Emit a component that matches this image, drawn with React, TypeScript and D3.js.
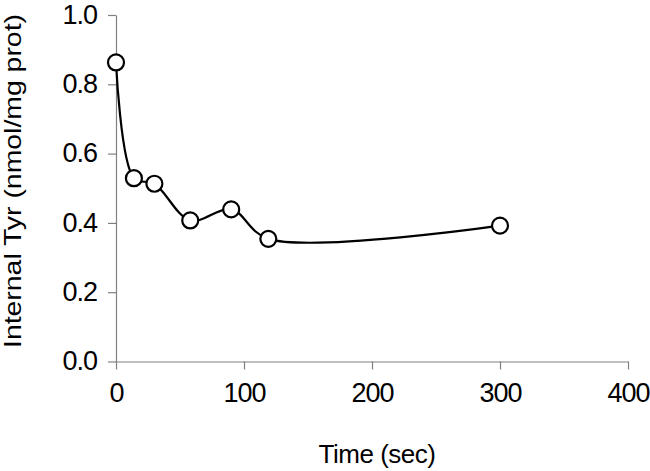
import React, { useEffect, useRef } from 'react';
import * as d3 from 'd3';

// time points (sec) and internal Tyr (nmol/mg prot)
const times = [0, 14, 30, 58, 90, 119, 300];
const tyr = [0.863, 0.529, 0.513, 0.407, 0.439, 0.354, 0.392];
const xTicks = [0, 100, 200, 300, 400];
const yTicks = [0, 0.2, 0.4, 0.6, 0.8, 1.0];

const App = () => {
  const svgRef = useRef<SVGSVGElement>(null);

  useEffect(() => {
    const width = 650;
    const height = 471;
    const left = 116;
    const right = 628;
    const top = 15;
    const bottom = 361.5;

    const svg = d3.select(svgRef.current)
      .attr('width', width)
      .attr('height', height)
      .style('font-family', '"Liberation Sans", Arial, sans-serif');

    svg.selectAll('*').remove();

    const x = d3.scaleLinear().domain([0, 400]).range([left, right]);
    const y = d3.scaleLinear().domain([0, 1]).range([bottom, top]);

    // x axis
    const gx = svg.append('g')
      .attr('transform', `translate(0,${bottom})`)
      .call(d3.axisBottom(x).tickValues(xTicks).tickSize(8).tickSizeOuter(0).tickPadding(13));

    // y axis
    const gy = svg.append('g')
      .attr('transform', `translate(${left},0)`)
      .call(d3.axisLeft(y).tickValues(yTicks).tickSize(8).tickSizeOuter(0).tickPadding(11)
        .tickFormat(d3.format('.1f')));

    [gx, gy].forEach(g => {
      g.select('.domain').attr('stroke', '#808080').attr('stroke-width', 1.2);
      g.selectAll('.tick line').attr('stroke', '#808080').attr('stroke-width', 1.2);
      g.selectAll('.tick text')
        .attr('fill', '#000')
        .style('font-size', '27px')
        .style('font-family', '"Liberation Sans", Arial, sans-serif')
        .style('letter-spacing', '-1px');
    });
    gy.selectAll('.tick text').attr('dy', '0.3em');

    // titles
    svg.append('text')
      .attr('x', (left + right) / 2 + 5)
      .attr('y', 463)
      .attr('text-anchor', 'middle')
      .style('font-size', '26px')
      .style('letter-spacing', '-0.5px')
      .text('Time (sec)');

    svg.append('text')
      .attr('transform', 'translate(21,181) rotate(-90)')
      .attr('text-anchor', 'middle')
      .attr('textLength', 334)
      .attr('lengthAdjust', 'spacingAndGlyphs')
      .style('font-size', '24px')
      .text('Internal Tyr (nmol/mg prot)');

    const pts = times.map((t, i) => [t, tyr[i]] as [number, number]);

    const line = d3.line<[number, number]>()
      .x(d => x(d[0]))
      .y(d => y(d[1]))
      .curve(d3.curveCatmullRom.alpha(0.5));

    svg.append('path')
      .datum(pts)
      .attr('d', line)
      .attr('fill', 'none')
      .attr('stroke', '#000')
      .attr('stroke-width', 2.2);

    svg.append('g')
      .selectAll('circle')
      .data(pts)
      .join('circle')
      .attr('cx', d => x(d[0]))
      .attr('cy', d => y(d[1]))
      .attr('r', 8)
      .attr('fill', '#fff')
      .attr('stroke', '#000')
      .attr('stroke-width', 2.2);
  }, []);

  return (
    <div>
      <svg ref={svgRef} style={{ position: 'absolute', left: 0, top: 0 }}></svg>
    </div>
  );
};

export default App;
